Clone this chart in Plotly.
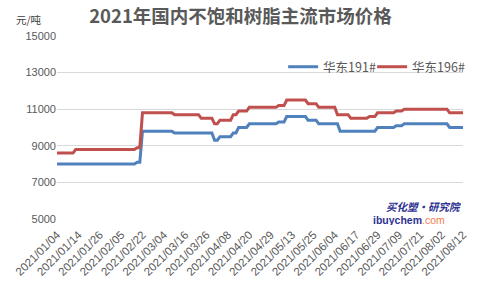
import plotly.graph_objects as go

# ---- data ----
MONTH_DAYS = {
    "01": [4, 5, 6, 7, 8, 11, 12, 13, 14, 15, 18, 19, 20, 21, 22, 25, 26, 27, 28, 29],
    "02": [1, 2, 3, 4, 5, 7, 8, 9, 10, 18, 19, 20, 22, 23, 24, 25, 26],
    "03": [1, 2, 3, 4, 5, 8, 9, 10, 11, 12, 15, 16, 17, 18, 19, 22, 23, 24, 25, 26, 29, 30, 31],
    "04": [1, 2, 6, 7, 8, 9, 12, 13, 14, 15, 16, 19, 20, 21, 22, 23, 25, 26, 27, 28, 29, 30],
    "05": [6, 7, 8, 10, 11, 12, 13, 14, 17, 18, 19, 20, 21, 24, 25, 26, 27, 28, 31],
    "06": [1, 2, 3, 4, 7, 8, 9, 10, 11, 15, 16, 17, 18, 21, 22, 23, 24, 25, 28, 29, 30],
    "07": [1, 2, 5, 6, 7, 8, 9, 12, 13, 14, 15, 16, 19, 20, 21, 22, 23, 26, 27, 28, 29, 30],
    "08": [2, 3, 4, 5, 6, 9, 10, 11, 12],
}
dates = [f"2021/{m}/{d:02d}" for m, days in MONTH_DAYS.items() for d in days]

tick_labels = ["2021/01/04", "2021/01/14", "2021/01/26", "2021/02/05", "2021/02/22",
               "2021/03/04", "2021/03/16", "2021/03/26", "2021/04/08", "2021/04/20",
               "2021/04/29", "2021/05/13", "2021/05/25", "2021/06/04", "2021/06/17",
               "2021/06/29", "2021/07/09", "2021/07/21", "2021/08/02", "2021/08/12"]

y_ticks = [5000, 7000, 9000, 11000, 13000, 15000]

hd191 = [
    8000, 8000, 8000, 8000, 8000, 8000, 8000, 8000, 8000, 8000,
    8000, 8000, 8000, 8000, 8000, 8000, 8000, 8000, 8000, 8000,
    8000, 8000, 8000, 8000, 8000, 8000, 8000, 8000, 8000, 8000,
    8100, 8100, 9800, 9800, 9800, 9800, 9800, 9800, 9800, 9800,
    9800, 9800, 9800, 9800, 9700, 9700, 9700, 9700, 9700, 9700,
    9700, 9700, 9700, 9700, 9700, 9700, 9700, 9700, 9700, 9300,
    9300, 9500, 9500, 9500, 9500, 9500, 9700, 9700, 10000, 10000,
    10000, 10000, 10200, 10200, 10200, 10200, 10200, 10200, 10200, 10200,
    10200, 10200, 10200, 10300, 10300, 10300, 10600, 10600, 10600, 10600,
    10600, 10600, 10600, 10600, 10400, 10400, 10400, 10400, 10200, 10200,
    10200, 10200, 10200, 10200, 10200, 10200, 9800, 9800, 9800, 9800,
    9800, 9800, 9800, 9800, 9800, 9800, 9800, 9800, 9800, 9800,
    10000, 10000, 10000, 10000, 10000, 10000, 10000, 10100, 10100, 10100,
    10200, 10200, 10200, 10200, 10200, 10200, 10200, 10200, 10200, 10200,
    10200, 10200, 10200, 10200, 10200, 10200, 10200, 10000, 10000, 10000,
    10000, 10000, 10000,
]
hd196 = [
    8600, 8600, 8600, 8600, 8600, 8600, 8600, 8800, 8800, 8800,
    8800, 8800, 8800, 8800, 8800, 8800, 8800, 8800, 8800, 8800,
    8800, 8800, 8800, 8800, 8800, 8800, 8800, 8800, 8800, 8800,
    8900, 8900, 10800, 10800, 10800, 10800, 10800, 10800, 10800, 10800,
    10800, 10800, 10800, 10800, 10700, 10700, 10700, 10700, 10700, 10700,
    10700, 10700, 10700, 10700, 10500, 10500, 10500, 10500, 10500, 10200,
    10200, 10400, 10400, 10400, 10400, 10400, 10700, 10700, 10900, 10900,
    10900, 10900, 11100, 11100, 11100, 11100, 11100, 11100, 11100, 11100,
    11100, 11100, 11100, 11200, 11200, 11200, 11500, 11500, 11500, 11500,
    11500, 11500, 11500, 11500, 11300, 11300, 11300, 11300, 11100, 11100,
    11100, 11100, 11100, 11100, 11100, 10700, 10700, 10700, 10700, 10700,
    10500, 10500, 10500, 10500, 10500, 10500, 10500, 10600, 10600, 10600,
    10800, 10800, 10800, 10800, 10800, 10800, 10800, 10900, 10900, 10900,
    11000, 11000, 11000, 11000, 11000, 11000, 11000, 11000, 11000, 11000,
    11000, 11000, 11000, 11000, 11000, 11000, 11000, 10800, 10800, 10800,
    10800, 10800, 10800,
]

BLUE = "#4F81BD"
RED = "#C0504D"
TXT = "#595959"
CJK = "Noto Sans CJK SC"

fig = go.Figure()
fig.add_trace(go.Scatter(x=dates, y=hd191, mode="lines", name="华东191#",
                         line=dict(color=BLUE, width=3), legendwidth=44))
fig.add_trace(go.Scatter(x=dates, y=hd196, mode="lines", name="华东196#",
                         line=dict(color=RED, width=3), legendwidth=54))

fig.update_layout(
    width=481, height=282,
    margin=dict(l=57, r=18, t=36, b=63, autoexpand=False),
    paper_bgcolor="white", plot_bgcolor="white",
    font=dict(family=CJK, color=TXT, size=11),
    title=dict(text="<b>2021年国内不饱和树脂主流市场价格</b>",
               x=0.5, xanchor="center", y=0.94, yanchor="middle",
               font=dict(family=CJK, size=18.5, color=TXT)),
    showlegend=True,
    legend=dict(orientation="h", x=1.02, xanchor="right", y=0.83, yanchor="middle",
                font=dict(family=CJK, size=12.5, color=TXT),
                bgcolor="rgba(0,0,0,0)", entrywidthmode="pixels",
                tracegroupgap=0),
    xaxis=dict(type="category", tickmode="array", tickvals=tick_labels,
               ticktext=tick_labels, tickangle=-45, showgrid=False,
               showline=False, ticks="", ticklabelstandoff=6, automargin=False,
               tickfont=dict(size=11.5, color=TXT, family="Liberation Sans"),
               range=[0, len(dates) - 1]),
    yaxis=dict(range=[5000, 15000], tickmode="array", tickvals=y_ticks,
               ticktext=[str(v) for v in y_ticks], showgrid=True, automargin=False,
               gridcolor="#D9D9D9", gridwidth=1, zeroline=False, showline=False,
               ticks="", tickfont=dict(size=11, color=TXT, family="Liberation Sans")),
)

fig.add_annotation(text="元/吨", xref="paper", yref="paper", x=-0.07, y=1.09,
                   xanchor="center", yanchor="middle", showarrow=False,
                   font=dict(family=CJK, size=10.5, color="#404040"))
fig.add_annotation(text="<b><i>买化塑·研究院</i></b>", xref="paper", yref="paper",
                   x=1.0, y=0.071, xanchor="right", yanchor="middle", showarrow=False,
                   height=11, font=dict(family=CJK, size=10.5, color="#2E3192"))
fig.add_annotation(text="<b>ibuychem</b><span style='color:#F47B50'>.com</span>",
                   xref="paper", yref="paper", x=0.96, y=0.0, xanchor="right",
                   yanchor="middle", showarrow=False, height=11,
                   font=dict(family="Liberation Sans", size=10.5, color="#2E3192"))

fig.write_html("out.html")
